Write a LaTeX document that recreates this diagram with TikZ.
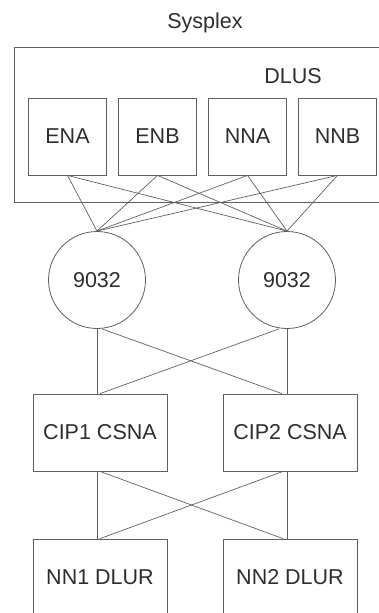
\documentclass[tikz,border=0pt]{standalone}
\usepackage{fontspec}
\setmainfont{Liberation Sans}
\usetikzlibrary{positioning}
\definecolor{traitgris}{RGB}{95,95,95}
\definecolor{textegris}{RGB}{45,45,45}

\begin{document}
\begin{tikzpicture}[
    x=1pt,
    y=-1pt,
    label/.style={
        inner sep=0pt,
        font=\fontsize{21.5}{26}\selectfont,
        text=textegris
    },
    box/.style={
        draw=traitgris,
        line width=0.8pt,
        minimum width=78pt,
        minimum height=77pt,
        inner sep=0pt,
        align=center,
        font=\fontsize{21.5}{26}\selectfont,
        text=textegris
    },
    widebox/.style={
        box,
        minimum width=134pt
    },
    switch/.style={
        draw=traitgris,
        line width=0.8pt,
        circle,
        minimum size=97pt,
        inner sep=0pt,
        font=\fontsize{21.5}{26}\selectfont,
        text=textegris
    },
    link/.style={draw=traitgris, line width=0.7pt}
]

\useasboundingbox (0,0) rectangle (378,613);

% === Sysplex ===
\node[label] (sysplexlabel) at (205,23) {Sysplex};
\node[draw=traitgris, line width=0.8pt, minimum width=375pt, minimum height=155pt, inner sep=0pt]
    (sysplex) at (201.5,124.5) {};
\node[label] (dluslabel) at (293,76) {DLUS};

% === DLUS ===
\node[box] (ena) at (67.5,136.5) {ENA};
\node[box] (enb) at (157.5,136.5) {ENB};
\node[box] (nna) at (247.5,136.5) {NNA};
\node[box] (nnb) at (337.5,136.5) {NNB};

% === 9032 ===
\node[switch] (escleft) at (97,280) {9032};
\node[switch] (escright) at (287,280) {9032};

% === CIP ===
\node[widebox] (cipone) at (100,432.5) {CIP1 CSNA};
\node[widebox] (ciptwo) at (290,432.5) {CIP2 CSNA};

% === DLUR ===
\node[widebox] (nnone) at (100,577.5) {NN1 DLUR};
\node[widebox] (nntwo) at (290,577.5) {NN2 DLUR};

% === Liens DLUS vers 9032 ===
\foreach \n in {ena,enb,nna,nnb} {
    \draw[link] (\n.south) -- (escleft.north);
    \draw[link] (\n.south) -- (escright.north);
}

% === Liens 9032 vers CIP ===
\draw[link] (escleft.south) -- (escleft.south |- cipone.north);
\draw[link] (escright.south) -- (escright.south |- ciptwo.north);
\draw[link] ([xshift=5pt]escleft.south) -- ([xshift=-8pt]ciptwo.north);
\draw[link] ([xshift=-8pt]escright.south) -- (cipone.north);

% === Liens CIP vers DLUR ===
\draw[link] (escleft.south |- cipone.south) -- (escleft.south |- nnone.north);
\draw[link] (escright.south |- ciptwo.south) -- (escright.south |- nntwo.north);
\draw[link] (cipone.south) -- ([xshift=-7pt]nntwo.north);
\draw[link] ([xshift=-7pt]ciptwo.south) -- (nnone.north);

\end{tikzpicture}
\end{document}
